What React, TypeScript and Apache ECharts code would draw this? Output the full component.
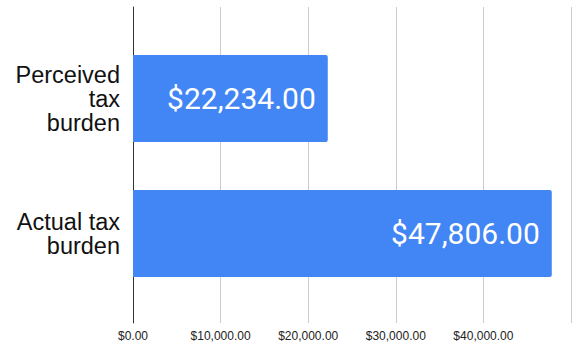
import React, { useEffect, useRef } from "react";
import * as echarts from "echarts";

const categories = ["Perceived tax burden", "Actual tax burden"];
const categoryLabels = ["Perceived\ntax\nburden", "Actual tax\nburden"];
const values = [22234, 47806];
const xMin = 0;
const xMax = 50000;
const xInterval = 10000;

const fmtMoney = (v: number) =>
  "$" + v.toLocaleString("en-US", { minimumFractionDigits: 2, maximumFractionDigits: 2 });

export default function App() {
  const ref = useRef<HTMLDivElement>(null);
  useEffect(() => {
    if (!ref.current) return;
    const chart = echarts.init(ref.current, null, { renderer: "svg" });
    chart.setOption({
      animation: false,
      grid: [
        { left: 133, right: 11, top: 31, bottom: 50 },
        { left: 133, right: 11, top: 7, bottom: 28 },
      ],
      xAxis: [
        {
          gridIndex: 0,
          type: "value",
          min: xMin,
          max: xMax,
          interval: xInterval,
          show: false,
        },
        {
          gridIndex: 1,
          type: "value",
          min: xMin,
          max: xMax,
          interval: xInterval,
          axisLine: { show: false },
          axisTick: { show: false },
          splitLine: { show: true, lineStyle: { color: "#cccccc", width: 1 } },
          axisLabel: {
            show: true,
            margin: 7,
            fontFamily: "'Liberation Sans', Arial, sans-serif",
            fontSize: 12,
            color: "#222222",
            showMaxLabel: false,
            formatter: (v: number) => (v >= xMax ? "" : fmtMoney(v)),
          },
        },
      ],
      yAxis: [
        {
          gridIndex: 0,
          type: "category",
          inverse: true,
          data: categories,
          axisLine: { show: false },
          axisTick: { show: false },
          splitLine: { show: false },
          axisLabel: {
            margin: 13,
            fontFamily: "'Liberation Sans', Arial, sans-serif",
            fontSize: 23.5,
            lineHeight: 24,
            color: "#111111",
            align: "right",
            formatter: (_v: string, i: number) => categoryLabels[i],
          },
        },
        {
          gridIndex: 1,
          type: "category",
          data: [""],
          axisLine: { show: true, lineStyle: { color: "#333333", width: 1 } },
          axisTick: { show: false },
          axisLabel: { show: false },
          splitLine: { show: false },
        },
      ],
      series: [
        {
          type: "bar",
          xAxisIndex: 0,
          yAxisIndex: 0,
          data: values,
          barCategoryGap: "35.5%",
          itemStyle: { color: "#4285f4", borderRadius: [0, 2, 2, 0] },
          label: {
            show: true,
            position: "insideRight",
            distance: 12,
            color: "#ffffff",
            fontFamily: "Roboto, sans-serif",
            fontSize: 30,
            formatter: (p: any) => fmtMoney(p.value),
          },
        },
      ],
    });
    return () => chart.dispose();
  }, []);
  return <div ref={ref} style={{ width: 582, height: 351, position: "absolute", left: 0, top: 0 }} />;
}
